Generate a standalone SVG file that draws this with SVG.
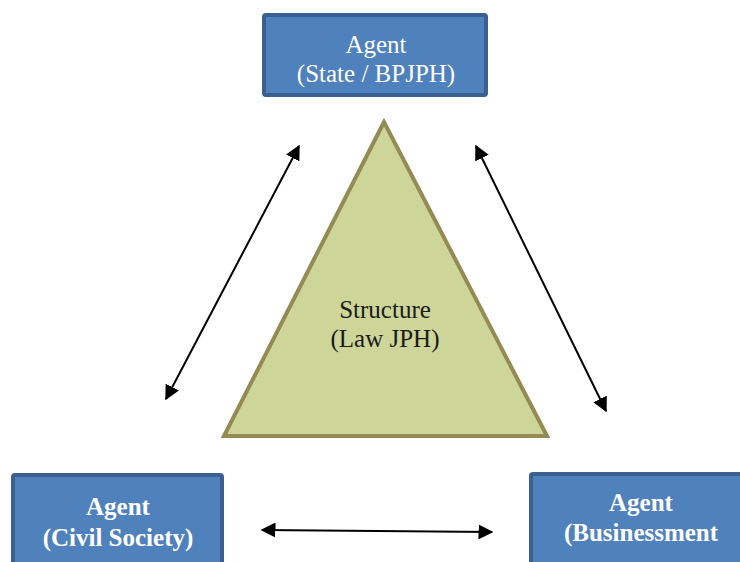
<svg xmlns="http://www.w3.org/2000/svg" width="740" height="562" viewBox="0 0 740 562">
<style>
.box{fill:#4f81bd;stroke:#3b5f8f;stroke-width:4}
.t{font-family:"Liberation Serif",serif;font-size:25px;fill:#ffffff;text-anchor:middle}
.s{font-family:"Liberation Serif",serif;font-size:25px;fill:#1a1a1a;text-anchor:middle}
.b{font-weight:bold}
.c{stroke:#000;stroke-width:2;fill:none;marker-start:url(#ah);marker-end:url(#ah)}
</style>
<defs>
<marker id="ah" viewBox="0 0 10 10" refX="9" refY="5" markerWidth="7.5" markerHeight="7.5" orient="auto-start-reverse" markerUnits="strokeWidth">
<path d="M0,0 L10,5 L0,10 Z" fill="#000"/>
</marker>
</defs>
<rect width="740" height="562" fill="#fff"/>
<g id="structure">
<polygon points="384,122 224,436 547,436" fill="#cdd598" stroke="#948a54" stroke-width="4" stroke-linejoin="miter"/>
<text class="s" x="385" y="318">Structure</text>
<text class="s" x="385" y="347">(Law JPH)</text>
</g>
<g id="agent-state">
<rect class="box" x="264" y="15" width="222" height="80" rx="2"/>
<text class="t" x="376" y="53">Agent</text>
<text class="t" x="376" y="82">(State / BPJPH)</text>
</g>
<g id="agent-civil">
<rect class="box" x="13" y="475" width="209" height="100" rx="2"/>
<text class="t b" x="118" y="515">Agent</text>
<text class="t b" x="118" y="546">(Civil Society)</text>
</g>
<g id="agent-business">
<rect class="box" x="531" y="474" width="230" height="100" rx="2"/>
<text class="t b" x="641" y="511">Agent</text>
<text class="t b" x="641" y="541">(Businessment</text>
</g>
<g id="connectors">
<line class="c" x1="166" y1="399" x2="299" y2="146"/>
<line class="c" x1="476" y1="146" x2="606" y2="411"/>
<line class="c" x1="262" y1="530" x2="492" y2="532"/>
</g>
</svg>
